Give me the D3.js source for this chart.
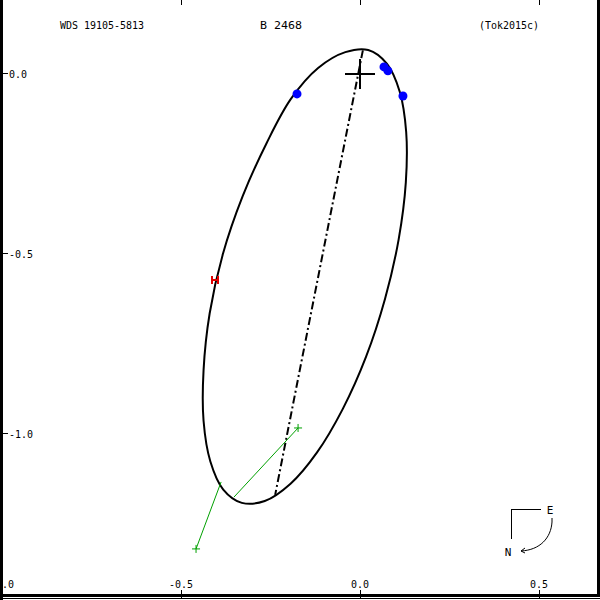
<!DOCTYPE html>
<html>
<head>
<meta charset="utf-8">
<script src="https://cdn.jsdelivr.net/npm/d3@7"></script>
<style>
html,body{margin:0;padding:0;background:#fff;}
svg{display:block;}
text{font-family:"DejaVu Sans Mono","Liberation Mono",monospace;font-size:11px;fill:#000;}
</style>
</head>
<body>
<svg id="chart" width="600" height="600"></svg>
<script>
// ---- data (in chart units) ----
const titleLeft = "WDS 19105-5813";
const titleMid = "B  2468";
const titleRight = "(Tok2015c)";

const xTicks = [-1.0, -0.5, 0.0, 0.5];
const xTickLabels = ["-1.0", "-0.5", "0.0", "0.5"];
const yTicks = [0.0, -0.5, -1.0];
const yTickLabels = ["0.0", "-0.5", "-1.0"];

// orbit ellipse, points
const orbitX = [-0.330,-0.266,-0.194,-0.120,-0.048,0.017,0.070,0.108,0.128,0.129,0.111,0.075,0.023,-0.041,-0.117,-0.193,-0.261,-0.328,-0.383,-0.420,-0.437,-0.437,-0.418,-0.382];
const orbitY = [-1.194,-1.189,-1.141,-1.054,-0.933,-0.788,-0.627,-0.462,-0.304,-0.164,-0.052,0.026,0.064,0.058,0.014,-0.072,-0.195,-0.343,-0.503,-0.668,-0.826,-0.966,-1.079,-1.157];

// line of nodes endpoints
const nodeX = [0.008, -0.237];
const nodeY = [0.063, -1.172];

// blue (high precision) observations
const blueX = [-0.176, 0.067, 0.078, 0.120];
const blueY = [-0.058, 0.017, 0.006, -0.064];

// red (interferometric) observation
const redX = [-0.405];
const redY = [-0.575];

// green observations and their predicted positions
const greenObsX = [-0.173, -0.458];
const greenObsY = [-0.986, -1.322];
const greenPredX = [-0.352, -0.388];
const greenPredY = [-1.178, -1.136];

// ---- drawing ----
const svg = d3.select("#chart");
const x = d3.scaleLinear().domain([-1.0, 0.5]).range([2, 539]);
const y = d3.scaleLinear().domain([0.0, -1.0]).range([73, 433]);

// frame
svg.append("rect").attr("x",0).attr("y",0).attr("width",3).attr("height",600).attr("fill","#000");
svg.append("rect").attr("x",597).attr("y",0).attr("width",3).attr("height",597).attr("fill","#000");
svg.append("rect").attr("x",0).attr("y",594).attr("width",600).attr("height",3).attr("fill","#000");
svg.append("rect").attr("x",0).attr("y",598).attr("width",600).attr("height",1).attr("fill","#000");

// top & bottom ticks
xTicks.forEach(t => {
  svg.append("line").attr("x1",x(t)+0.5).attr("x2",x(t)+0.5).attr("y1",0).attr("y2",5).attr("stroke","#000");
  svg.append("line").attr("x1",x(t)+0.5).attr("x2",x(t)+0.5).attr("y1",590).attr("y2",598).attr("stroke","#000");
});
xTicks.forEach((t,i) => {
  svg.append("text").attr("x",x(t)).attr("y",588).attr("text-anchor","middle")
    .attr("textLength", xTickLabels[i].length*6).attr("lengthAdjust","spacingAndGlyphs")
    .text(xTickLabels[i]);
});
// left ticks
yTicks.forEach((t,i) => {
  svg.append("line").attr("x1",3).attr("x2",8).attr("y1",y(t)+0.5).attr("y2",y(t)+0.5).attr("stroke","#000");
  svg.append("text").attr("x",9).attr("y",y(t)+4.5)
    .attr("textLength", yTickLabels[i].length*6).attr("lengthAdjust","spacingAndGlyphs")
    .text(yTickLabels[i]);
});

// titles
[[titleLeft,60],[titleMid,260],[titleRight,479]].forEach(([s,px]) => {
  svg.append("text").attr("x",px).attr("y",29)
    .attr("textLength", s.length*6).attr("lengthAdjust","spacingAndGlyphs").text(s);
});

// orbit
const orbitPts = orbitX.map((v,i)=>[x(v), y(orbitY[i])]);
svg.append("path").attr("d", d3.line().curve(d3.curveCatmullRomClosed)(orbitPts))
  .attr("fill","none").attr("stroke","#000").attr("stroke-width",2);

// line of nodes (dash-dot)
svg.append("line").attr("x1",x(nodeX[0])).attr("y1",y(nodeY[0])).attr("x2",x(nodeX[1])).attr("y2",y(nodeY[1]))
  .attr("stroke","#000").attr("stroke-width",2).attr("stroke-dasharray","8,3,2,3");

// primary cross
svg.append("line").attr("x1",x(0)-15).attr("x2",x(0)+15).attr("y1",y(0)+1).attr("y2",y(0)+1).attr("stroke","#000").attr("stroke-width",2);
svg.append("line").attr("x1",x(0)).attr("x2",x(0)).attr("y1",y(0)-14).attr("y2",y(0)+16).attr("stroke","#000").attr("stroke-width",2);

// green O-C
const green = "#00a000";
greenObsX.forEach((v,i) => {
  const ox = x(v), oy = y(greenObsY[i]);
  svg.append("line").attr("x1",ox).attr("y1",oy).attr("x2",x(greenPredX[i])).attr("y2",y(greenPredY[i]))
    .attr("stroke",green).attr("stroke-width",1);
  svg.append("line").attr("x1",ox-4).attr("x2",ox+4).attr("y1",oy).attr("y2",oy).attr("stroke",green).attr("stroke-width",1);
  svg.append("line").attr("x1",ox).attr("x2",ox).attr("y1",oy-4).attr("y2",oy+4).attr("stroke",green).attr("stroke-width",1);
});

// blue dots
blueX.forEach((v,i) => {
  svg.append("circle").attr("cx",x(v)).attr("cy",y(blueY[i])).attr("r",4.5).attr("fill","#0000ff");
});

// red marker
redX.forEach((v,i) => {
  const rx = x(v), ry = y(redY[i]);
  svg.append("line").attr("x1",rx-3).attr("x2",rx+3).attr("y1",ry).attr("y2",ry).attr("stroke","#e00000").attr("stroke-width",2);
  svg.append("line").attr("x1",rx-3).attr("x2",rx-3).attr("y1",ry-4).attr("y2",ry+4).attr("stroke","#e00000").attr("stroke-width",2);
  svg.append("line").attr("x1",rx+3).attr("x2",rx+3).attr("y1",ry-4).attr("y2",ry+4).attr("stroke","#e00000").attr("stroke-width",2);
});

// compass
const cg = svg.append("g");
cg.append("line").attr("x1",511.5).attr("x2",511.5).attr("y1",509).attr("y2",539).attr("stroke","#000");
cg.append("line").attr("x1",511).attr("x2",541).attr("y1",509.5).attr("y2",509.5).attr("stroke","#000");
cg.append("text").attr("x",550).attr("y",514).attr("text-anchor","middle").text("E");
cg.append("text").attr("x",508).attr("y",556).attr("text-anchor","middle").text("N");
cg.append("path").attr("d","M552,518 L552,522 C551,538 540,550 521,551").attr("fill","none").attr("stroke","#000");
cg.append("path").attr("d","M525,548 L521,551 L525,553").attr("fill","none").attr("stroke","#000");
</script>
</body>
</html>
